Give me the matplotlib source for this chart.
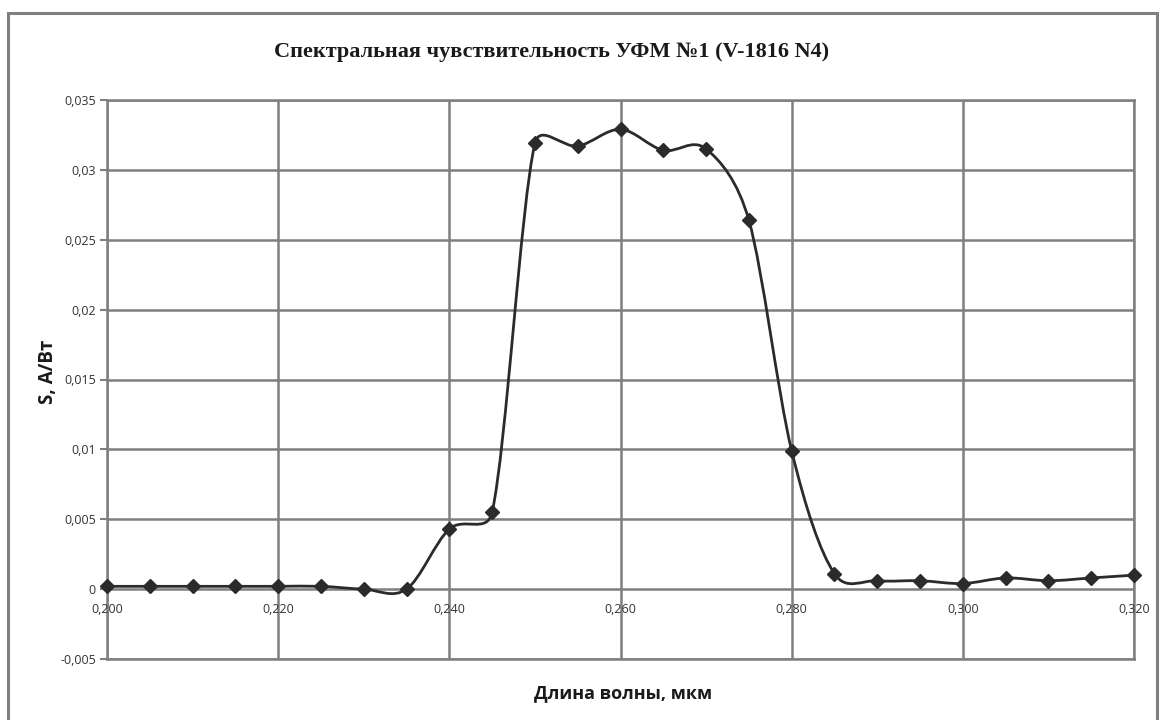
import numpy as np
import matplotlib
matplotlib.use("Agg")
import matplotlib.pyplot as plt
from matplotlib.path import Path
from matplotlib.patches import PathPatch, Rectangle

# ---- data ----
wavelength = [0.200, 0.205, 0.210, 0.215, 0.220, 0.225, 0.230, 0.235, 0.240, 0.245,
              0.250, 0.255, 0.260, 0.265, 0.270, 0.275, 0.280, 0.285, 0.290, 0.295,
              0.300, 0.305, 0.310, 0.315, 0.320]
sensitivity = [0.0002, 0.0002, 0.0002, 0.0002, 0.0002, 0.0002, 0.0000, 0.0000, 0.0043, 0.0055,
               0.0319, 0.0317, 0.0329, 0.0314, 0.0315, 0.0264, 0.0099, 0.0011, 0.0006, 0.0006,
               0.0004, 0.0008, 0.0006, 0.0008, 0.0010]
x_ticks = [0.200, 0.220, 0.240, 0.260, 0.280, 0.300, 0.320]
x_tick_labels = ["0,200", "0,220", "0,240", "0,260", "0,280", "0,300", "0,320"]
y_ticks = [-0.005, 0.0, 0.005, 0.01, 0.015, 0.02, 0.025, 0.03, 0.035]
y_tick_labels = ["-0,005", "0", "0,005", "0,01", "0,015", "0,02", "0,025", "0,03", "0,035"]
title = "Спектральная чувствительность УФМ №1 (V-1816 N4)"
x_label = "Длина волны, мкм"
y_label = "S, А/Вт"

SANS = ["Open Sans", "DejaVu Sans"]
SERIF = ["Liberation Serif", "DejaVu Serif"]
GRID = "#7f7f7f"
LINE = "#2b2b2b"

fig = plt.figure(figsize=(11.6, 7.2), dpi=100)
fig.patch.set_facecolor("white")
ax = fig.add_axes([107/1160, 1-659/720, (1134-107)/1160, (659-100)/720])
ax.set_xlim(0.200, 0.320)
ax.set_ylim(-0.005, 0.035)

# outer chart border
fig.patches.append(Rectangle((8/1160, -0.02), (1157-8)/1160, 1.02-13/720,
                             transform=fig.transFigure, fill=False,
                             edgecolor=GRID, linewidth=2.2))

# grid
ax.set_xticks(x_ticks)
ax.set_yticks(y_ticks)
ax.grid(True, color=GRID, linewidth=1.8)
ax.set_axisbelow(True)
for s in ax.spines.values():
    s.set_color(GRID)
    s.set_linewidth(1.8)

ax.set_xticklabels([])
ax.tick_params(axis="x", length=0)
ax.set_yticklabels(y_tick_labels, family=SANS, fontsize=9, color="#333333")
ax.tick_params(axis="y", length=5, width=1.5, color=GRID, pad=3)

# x tick labels drawn at the y=0 crossing
for xv, lab in zip(x_ticks, x_tick_labels):
    ax.annotate(lab, (xv, 0.0), xytext=(0, -10), textcoords="offset points",
                ha="center", va="top", family=SANS, fontsize=9, color="#333333")

# smoothed line (Excel-like Bezier smoothing), computed in display space
fig.canvas.draw()
pts = ax.transData.transform(np.column_stack([wavelength, sensitivity]))
n = len(pts)
verts = [pts[0]]
codes = [Path.MOVETO]
for i in range(n - 1):
    p0 = pts[i - 1] if i > 0 else pts[i]
    p1 = pts[i]
    p2 = pts[i + 1]
    p3 = pts[i + 2] if i + 2 < n else pts[i + 1]
    d12 = np.hypot(*(p2 - p1))
    d02 = np.hypot(*(p2 - p0))
    d13 = np.hypot(*(p3 - p1))
    f1 = 1/6 if d02 == 0 or d02/6 < d12/2 else 0.5*d12/d02
    f2 = 1/6 if d13 == 0 or d13/6 < d12/2 else 0.5*d12/d13
    c1 = p1 + (p2 - p0) * f1
    c2 = p2 - (p3 - p1) * f2
    verts += [c1, c2, p2]
    codes += [Path.CURVE4] * 3
verts = ax.transData.inverted().transform(np.array(verts))
ax.add_patch(PathPatch(Path(verts, codes), fill=False, edgecolor=LINE,
                       linewidth=2.0, zorder=3, clip_on=False))
ax.plot(wavelength, sensitivity, linestyle="none", marker="D", markersize=7.5,
        color=LINE, zorder=4, clip_on=False)

# texts
fig.text(552/1160, 1-52/720, title, ha="center", va="center", family=SERIF,
         fontweight="bold", fontsize=16, color="#1a1a1a")
fig.text(623/1160, 1-693/720, x_label, ha="center", va="center", family=SANS,
         fontweight="bold", fontsize=13, color="#1a1a1a")
fig.text(48/1160, 1-372/720, y_label, ha="center", va="center", rotation=90,
         family=SANS, fontweight="bold", fontsize=13.5, color="#1a1a1a")

fig.savefig("out.png", dpi=100, facecolor="white")
